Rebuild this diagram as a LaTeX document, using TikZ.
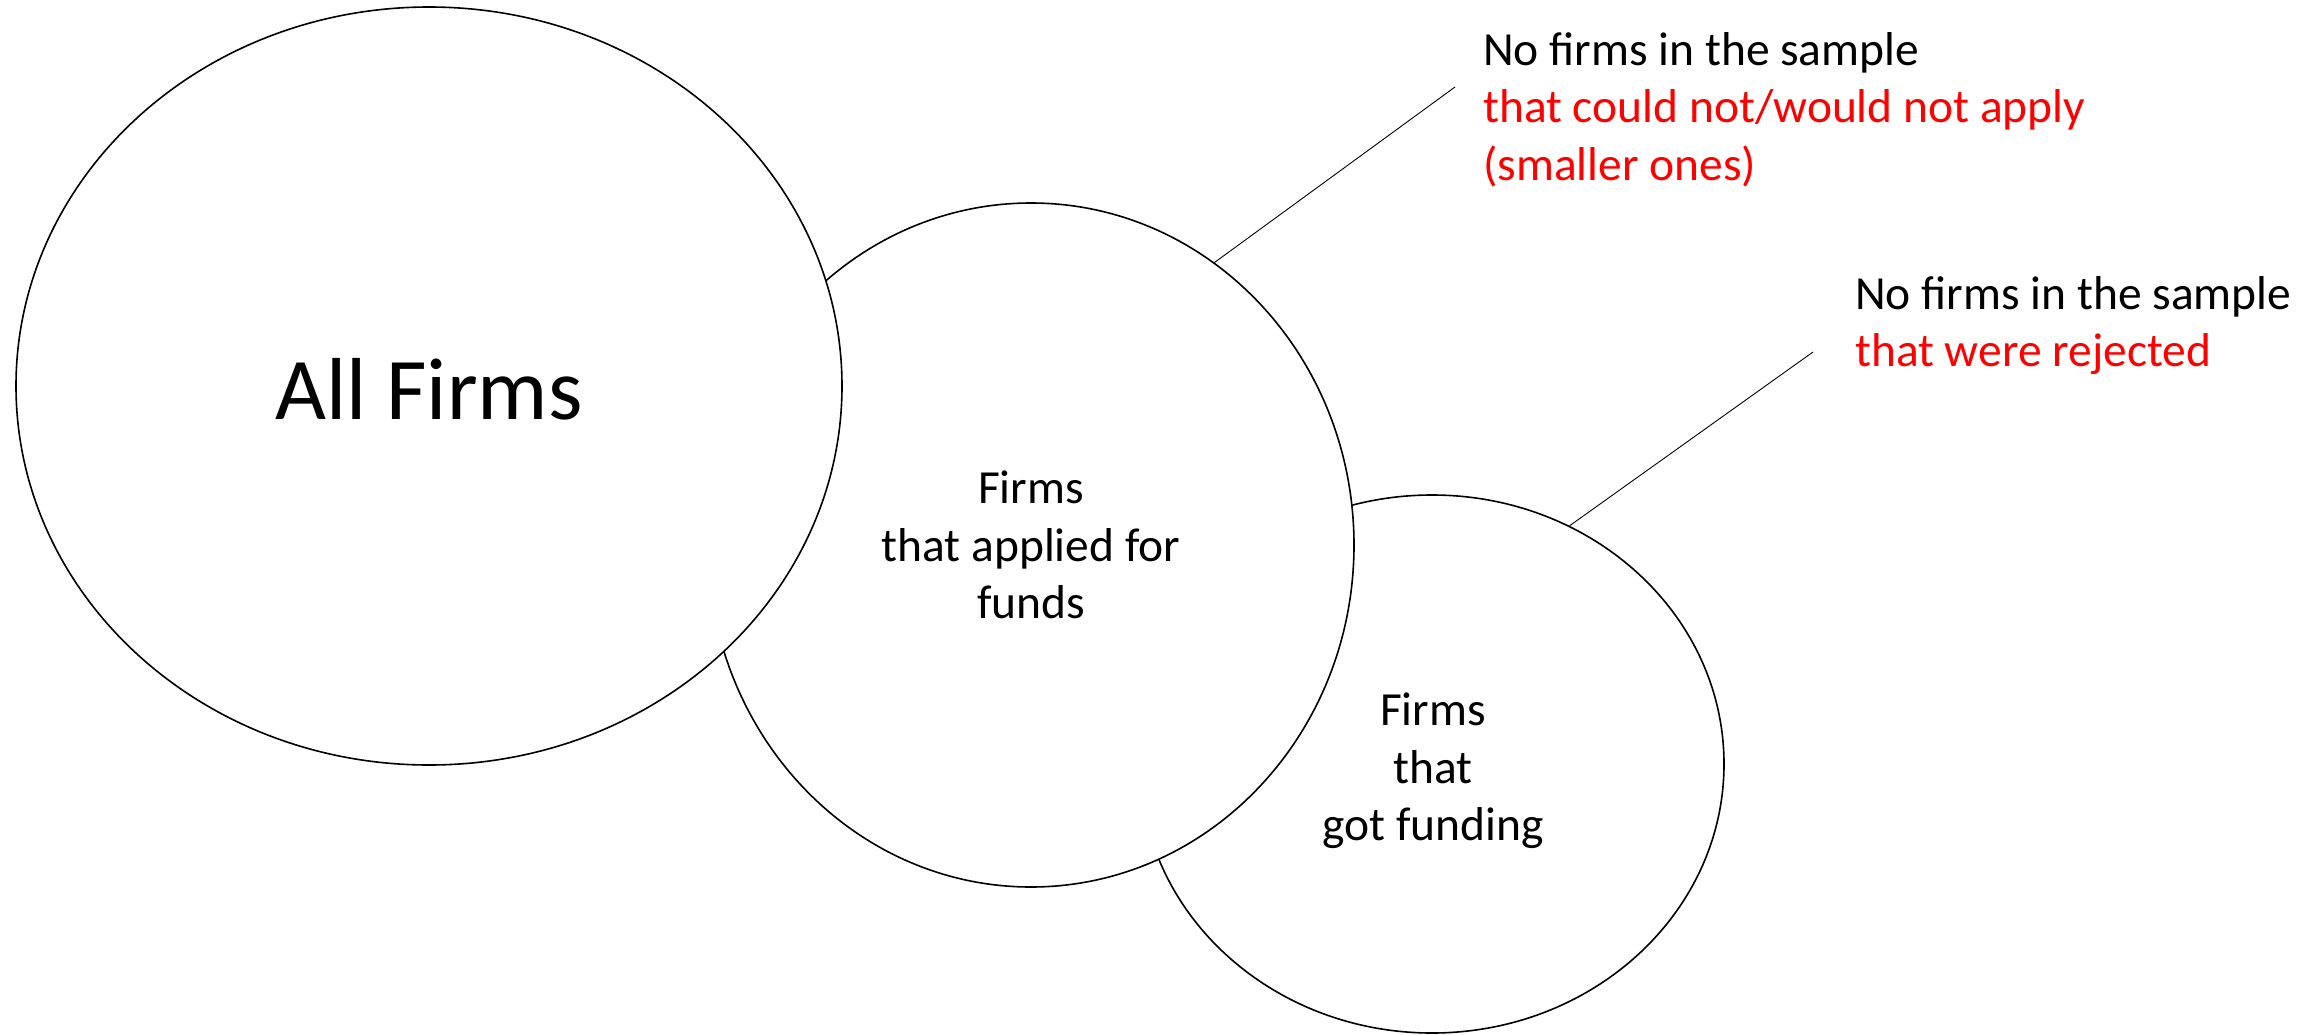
\documentclass[tikz,border=0pt]{standalone}
\usepackage{fontspec}
\setmainfont{Carlito}
\usetikzlibrary{shapes.geometric}
\tikzset{
  bub/.style={ellipse, draw=black, line width=1.6pt, fill=white, inner sep=0pt},
  lbl/.style={inner sep=0pt, align=center, font=\fontsize{47.5}{57.5}\selectfont},
  note/.style={inner sep=0pt, align=left, anchor=north west, font=\fontsize{47.5}{57.5}\selectfont},
  lead/.style={draw=black, line width=0.9pt}
}
\begin{document}
\begin{tikzpicture}[x=1pt,y=-1pt]
\useasboundingbox (0,0) rectangle (2321,1034);
\node[bub, minimum width=584pt, minimum height=538pt] (got) at (1432,764) {};
\node[bub, minimum width=646pt, minimum height=684pt] (applied) at (1031,545) {};
\node[bub, minimum width=826pt, minimum height=758pt] (all) at (429,386) {};
\node[inner sep=0pt, anchor=base, font=\fontsize{88}{100}\selectfont] (alltxt) at (429,419) {All Firms};
\node[lbl, anchor=north] (apptxt) at (1031,471) {Firms\\that applied for\\funds};
\node[lbl, anchor=north] (gottxt) at (1433,693) {Firms\\that\\got funding};
\node[note] (note1) at (1483,32) {No firms in the sample\\\textcolor{red}{that could not/would not apply}\\\textcolor{red}{(smaller ones)}};
\node[note] (note2) at (1855,276) {No firms in the sample\\\textcolor{red}{that were rejected}};
\coordinate (e1) at (1455,87);
\coordinate (e2) at (1813,352);
\draw[lead] (applied.57.7) -- (e1);
\draw[lead] (got.60.1) -- (e2);
\end{tikzpicture}
\end{document}
